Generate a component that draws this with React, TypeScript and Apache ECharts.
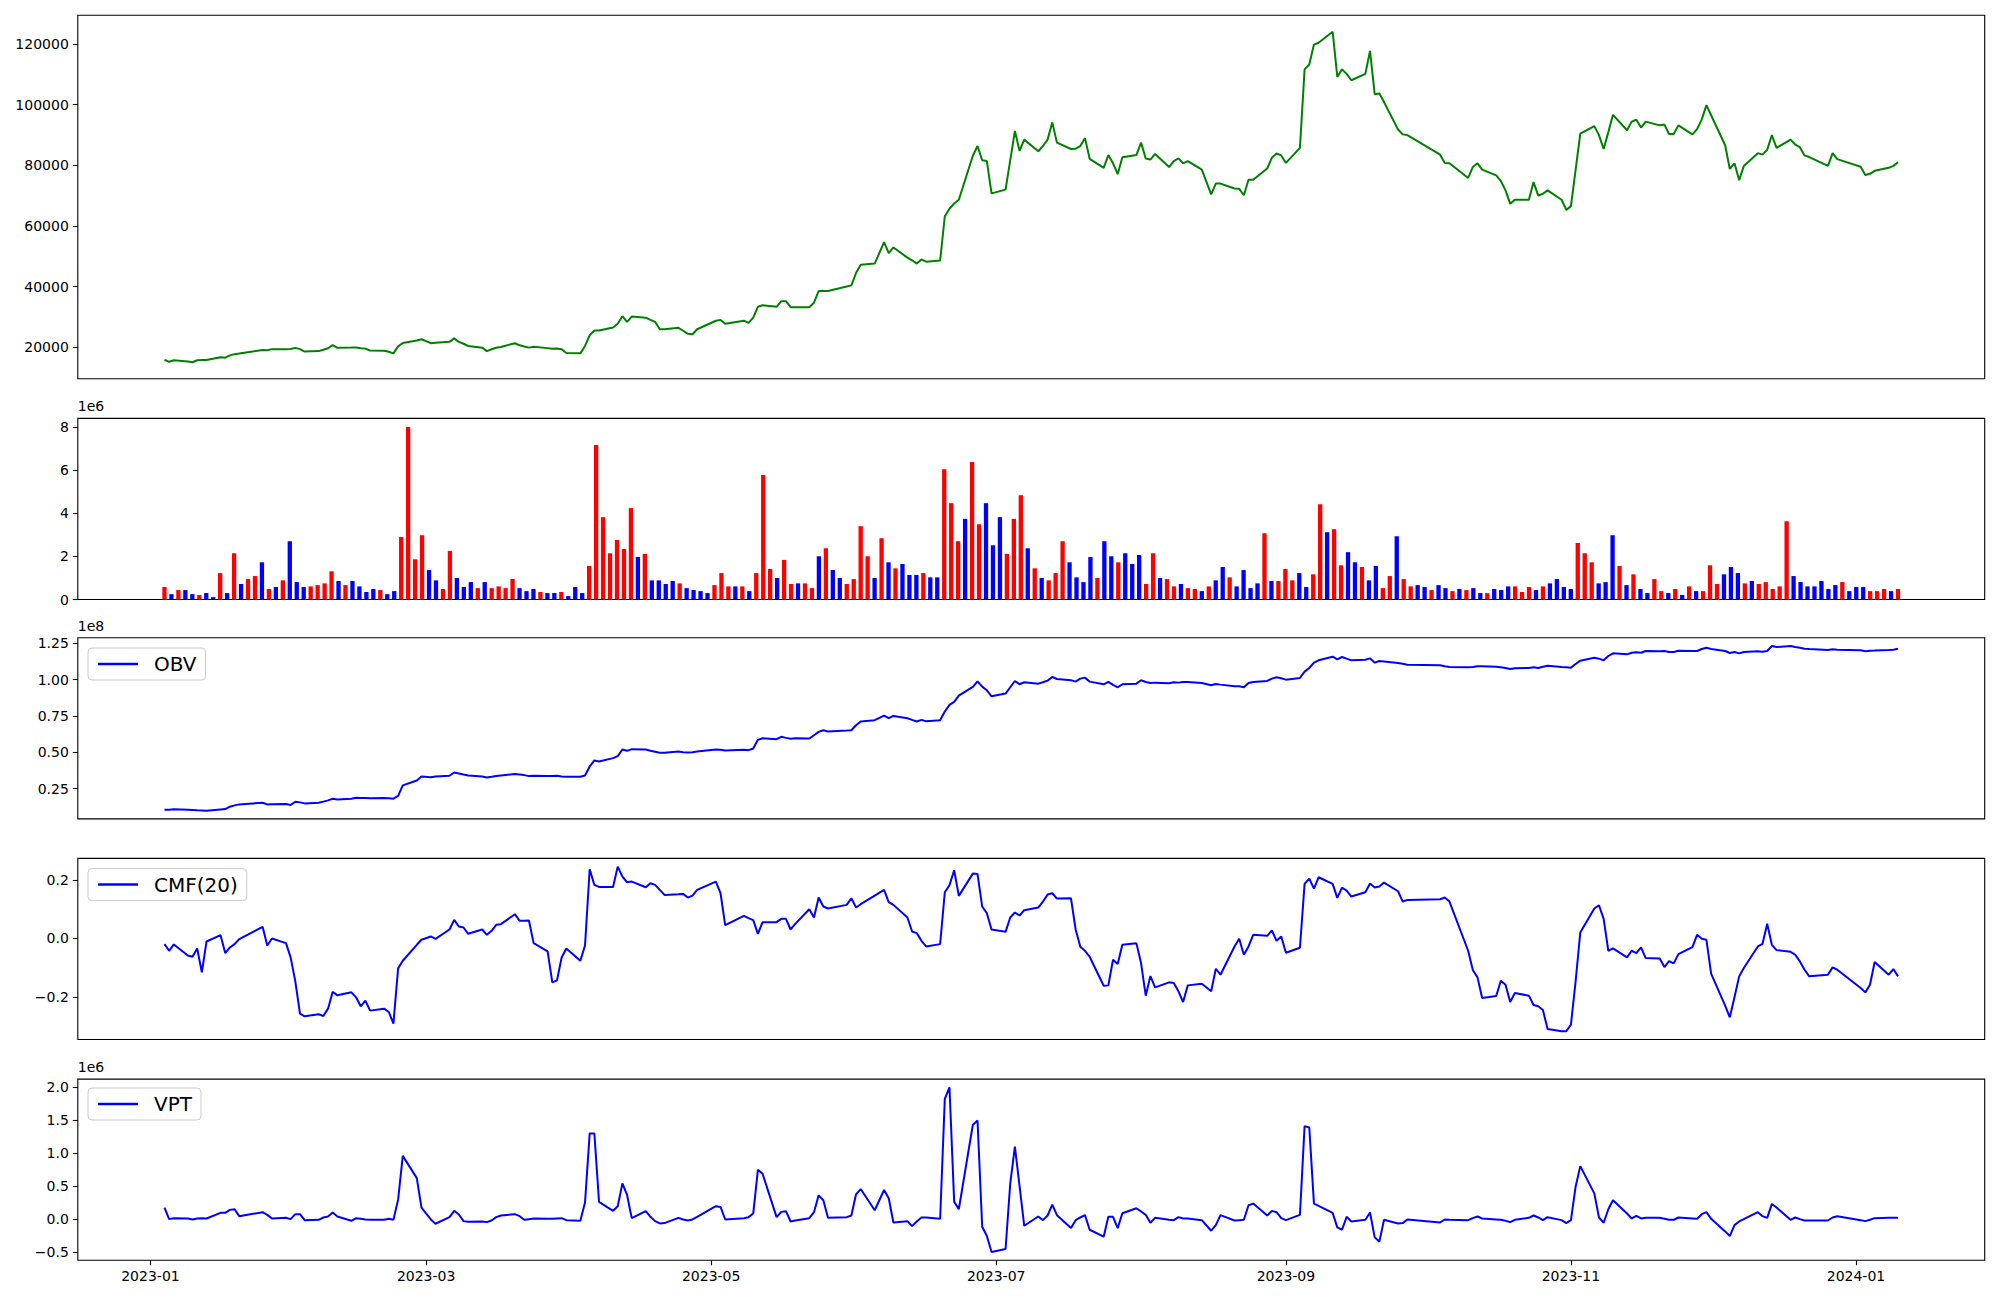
import React, { useEffect, useRef } from "react";
import * as echarts from "echarts";

// ---------- categories ----------
const FIRST_DAY = "2023-01-04";
const LAST_DAY = "2024-01-10";
const HOLIDAYS = [
  "2023-01-23", "2023-01-24", "2023-03-01", "2023-05-01", "2023-05-05", "2023-05-29",
  "2023-06-06", "2023-08-15", "2023-09-28", "2023-09-29", "2023-10-02", "2023-10-03",
  "2023-10-09", "2023-12-25", "2023-12-29", "2024-01-01",
];
const X_TICKS = ["2023-01", "2023-03", "2023-05", "2023-07", "2023-09", "2023-11", "2024-01"];

// ---------- series values ----------
const PRICE = [
  15950, 15270, 15790, 15340, 15120, 15800, 15900, 15840, 16790, 16630,
  17400, 17800, 17990, 19140, 19060, 19450, 19440, 19470, 19860, 19460,
  18660, 18795, 19270, 19750, 20770, 19900, 19960, 20020, 19710, 19620,
  18990, 18919, 18580, 18053, 20360, 21480, 22290, 22690, 21420, 21570,
  21840, 23000, 21820, 21220, 20480, 19930, 18795, 19400, 19900, 20160,
  21393, 20700, 20310, 19950, 20260, 19780, 19540, 19630, 19440, 18177,
  18053, 20500, 24000, 25600, 25600, 26588, 27825, 30299, 28444, 30175,
  29804, 29100, 28444, 25970, 26000, 26464, 25500, 24485, 24361, 26000,
  28800, 29062, 27825, 28815, 28073, 29804, 33392, 33887, 33392, 35247,
  35247, 33268, 33268, 33268, 34752, 38585, 38585, 38585, 40100, 40440,
  44524, 47245, 47616, 54667, 51080, 52935, 49600, 48700, 47616, 48977,
  48234, 48606, 63203, 65677, 67409, 68646, 83119, 86335, 81634, 81387,
  70749, 71986, 81600, 91283, 84727, 88438, 84604, 86335, 88438, 94128,
  87449, 85346, 85470, 86335, 88933, 82130, 79161, 83365, 80644, 77057,
  82624, 83365, 87449, 82254, 81883, 83738, 79408, 81387, 82254, 80644,
  81387, 78542, 70378, 73965, 73965, 72357, 72233, 70130, 75202, 75202,
  78913, 82500, 83861, 83243, 80769, 85717, 111570, 113178, 119734, 120353,
  123940, 109096, 111570, 110086, 107983, 110086, 117631, 103406, 103654, 100800,
  91778, 90170, 89922, 83489, 80768, 80644, 75820, 79408, 80644, 78542,
  76686, 74830, 71737, 67284, 68645, 68645, 74459, 70006, 70625, 71737,
  68645, 65305, 66542, 78500, 90418, 92892, 89922, 85346, 90912, 96602,
  91530, 94375, 94994, 92396, 94375, 93138, 93386, 90294, 90294, 93138,
  90170, 91902, 95117, 99818, 96478, 86582, 78789, 80644, 75078, 79779,
  83985, 83489, 85098, 89922, 85717, 88438, 86829, 85963, 83243, 82700,
  79779, 83985, 82006, 79532, 76810, 77181, 78171, 79161, 79800, 81016,
];

// volume in units of 1e6
const VOLUME_E6 = [
  0.58, 0.25, 0.44, 0.44, 0.25, 0.21, 0.30, 0.11, 1.23, 0.30,
  2.15, 0.72, 0.95, 1.09, 1.73, 0.49, 0.58, 0.89, 2.71, 0.81,
  0.58, 0.61, 0.67, 0.75, 1.31, 0.86, 0.67, 0.86, 0.61, 0.35,
  0.49, 0.44, 0.25, 0.39, 2.91, 8.02, 1.87, 2.99, 1.37, 0.89,
  0.49, 2.26, 1.00, 0.58, 0.81, 0.53, 0.81, 0.53, 0.61, 0.53,
  0.95, 0.53, 0.39, 0.49, 0.35, 0.30, 0.30, 0.35, 0.16, 0.58,
  0.30, 1.56, 7.18, 3.83, 2.15, 2.77, 2.35, 4.25, 1.98, 2.12,
  0.89, 0.89, 0.72, 0.86, 0.75, 0.53, 0.44, 0.39, 0.30, 0.67,
  1.23, 0.61, 0.61, 0.61, 0.39, 1.23, 5.79, 1.42, 1.00, 1.84,
  0.72, 0.75, 0.75, 0.53, 2.01, 2.38, 1.37, 1.00, 0.72, 0.95,
  3.41, 2.01, 1.00, 2.85, 1.73, 1.45, 1.65, 1.14, 1.14, 1.23,
  1.03, 1.03, 6.06, 4.48, 2.71, 3.75, 6.39, 3.50, 4.48, 2.52,
  3.83, 2.12, 3.75, 4.85, 2.38, 1.45, 1.00, 0.89, 1.23, 2.71,
  1.73, 1.03, 0.81, 1.98, 1.00, 2.71, 2.01, 1.73, 2.15, 1.65,
  2.07, 0.72, 2.15, 1.00, 0.95, 0.61, 0.72, 0.53, 0.49, 0.39,
  0.61, 0.89, 1.51, 1.03, 0.61, 1.37, 0.53, 0.75, 3.08, 0.86,
  0.86, 1.42, 0.89, 1.23, 0.58, 1.17, 4.43, 3.13, 3.27, 1.59,
  2.20, 1.73, 1.51, 0.89, 1.56, 0.53, 1.09, 2.94, 0.95, 0.61,
  0.67, 0.58, 0.44, 0.67, 0.53, 0.39, 0.49, 0.44, 0.53, 0.30,
  0.30, 0.49, 0.44, 0.61, 0.61, 0.35, 0.58, 0.44, 0.61, 0.75,
  0.95, 0.58, 0.49, 2.63, 2.15, 1.73, 0.75, 0.81, 2.99, 1.56,
  0.67, 1.17, 0.49, 0.30, 0.95, 0.39, 0.30, 0.49, 0.21, 0.61,
  0.39, 0.39, 1.59, 0.72, 1.17, 1.51, 1.23, 0.75, 0.86, 0.72,
  0.81, 0.49, 0.61, 3.64, 1.09, 0.81, 0.61, 0.61, 0.86, 0.49,
  0.67, 0.81, 0.39, 0.58, 0.58, 0.39, 0.39, 0.49, 0.39, 0.49,
];

// 1 = red (up) bar, 0 = blue (down) bar
const VOLUME_UP = [
  1, 0, 1, 0, 0, 1, 0, 0, 1, 0,
  1, 0, 1, 1, 0, 1, 0, 1, 0, 0,
  0, 1, 1, 1, 1, 0, 1, 0, 0, 0,
  0, 1, 0, 0, 1, 1, 1, 1, 0, 0,
  1, 1, 0, 0, 0, 1, 0, 1, 1, 1,
  1, 0, 0, 0, 1, 0, 0, 1, 0, 0,
  0, 1, 1, 1, 1, 1, 1, 1, 0, 1,
  0, 0, 0, 0, 1, 0, 0, 0, 0, 1,
  1, 1, 0, 1, 0, 1, 1, 1, 0, 1,
  1, 0, 1, 1, 0, 1, 0, 0, 1, 1,
  1, 1, 0, 1, 0, 1, 0, 0, 0, 1,
  0, 0, 1, 1, 1, 0, 1, 1, 0, 0,
  0, 1, 1, 1, 0, 1, 0, 1, 1, 1,
  0, 0, 0, 0, 1, 0, 0, 1, 0, 0,
  0, 1, 1, 0, 1, 1, 0, 1, 1, 0,
  1, 0, 0, 1, 0, 0, 0, 0, 1, 0,
  1, 1, 1, 0, 0, 1, 1, 0, 1, 1,
  0, 0, 1, 0, 0, 1, 1, 0, 1, 1,
  0, 0, 1, 0, 0, 1, 0, 1, 0, 0,
  1, 0, 0, 0, 1, 1, 1, 0, 1, 0,
  0, 0, 0, 1, 1, 1, 0, 0, 0, 1,
  0, 1, 0, 0, 1, 1, 0, 1, 0, 1,
  0, 1, 1, 1, 0, 0, 0, 1, 0, 1,
  1, 1, 1, 1, 0, 0, 0, 0, 0, 0,
  0, 1, 0, 0, 0, 1, 1, 1, 0, 1,
];

// OBV in units of 1e8
const OBV_E8 = [
  0.1054, 0.1054, 0.1091, 0.1054, 0.1038, 0.1020, 0.1006, 0.0988, 0.1072, 0.1100,
  0.1260, 0.1352, 0.1420, 0.1535, 0.1420, 0.1436, 0.1443, 0.1374, 0.1603, 0.1558,
  0.1489, 0.1535, 0.1612, 0.1695, 0.1809, 0.1763, 0.1809, 0.1878, 0.1855, 0.1855,
  0.1841, 0.1855, 0.1839, 0.1816, 0.2004, 0.2725, 0.3068, 0.3343, 0.3286, 0.3332,
  0.3389, 0.3611, 0.3549, 0.3480, 0.3412, 0.3343, 0.3274, 0.3320, 0.3377, 0.3412,
  0.3503, 0.3480, 0.3435, 0.3366, 0.3389, 0.3366, 0.3366, 0.3389, 0.3343, 0.3320,
  0.3320, 0.3412, 0.4030, 0.4442, 0.4373, 0.4602, 0.4739, 0.5197, 0.5106, 0.5220,
  0.5197, 0.5106, 0.5037, 0.4968, 0.4968, 0.5060, 0.5014, 0.4991, 0.5014, 0.5060,
  0.5197, 0.5174, 0.5128, 0.5174, 0.5151, 0.5266, 0.5861, 0.5975, 0.5907, 0.6067,
  0.5998, 0.5930, 0.5975, 0.5953, 0.6181, 0.6410, 0.6525, 0.6433, 0.6502, 0.6525,
  0.6868, 0.7120, 0.7211, 0.7532, 0.7349, 0.7509, 0.7349, 0.7234, 0.7120, 0.7234,
  0.7143, 0.7211, 0.7807, 0.8264, 0.8470, 0.8905, 0.9500, 0.9890, 0.9523, 0.9272,
  0.8859, 0.9043, 0.9478, 0.9912, 0.9684, 0.9821, 0.9729, 0.9821, 0.9935, 1.0187,
  1.0050, 0.9958, 0.9867, 1.0073, 1.0142, 0.9867, 0.9684, 0.9844, 0.9638, 0.9478,
  0.9684, 0.9729, 0.9958, 0.9844, 0.9775, 0.9798, 0.9752, 0.9821, 0.9798, 0.9844,
  0.9844, 0.9775, 0.9615, 0.9706, 0.9661, 0.9546, 0.9546, 0.9478, 0.9775, 0.9844,
  0.9912, 1.0073, 1.0164, 1.0096, 1.0004, 1.0119, 1.0553, 1.0805, 1.1171, 1.1332,
  1.1584, 1.1400, 1.1561, 1.1446, 1.1332, 1.1377, 1.1469, 1.1171, 1.1286, 1.1252,
  1.1148, 1.1103, 1.1034, 1.0988, 1.0919, 1.0873, 1.0851, 1.0873, 1.0919, 1.0919,
  1.0896, 1.0851, 1.0805, 1.0736, 1.0782, 1.0805, 1.0851, 1.0805, 1.0896, 1.0965,
  1.0873, 1.0851, 1.0828, 1.1080, 1.1309, 1.1515, 1.1446, 1.1332, 1.1630, 1.1813,
  1.1744, 1.1858, 1.1881, 1.1858, 1.1973, 1.1950, 1.1973, 1.1904, 1.1904, 1.1996,
  1.1973, 1.1973, 1.2110, 1.2202, 1.2110, 1.1973, 1.1835, 1.1904, 1.1813, 1.1904,
  1.1950, 1.1927, 1.1973, 1.2316, 1.2247, 1.2316, 1.2247, 1.2202, 1.2133, 1.2110,
  1.2041, 1.2087, 1.2064, 1.2019, 1.1950, 1.1996, 1.2007, 1.2041, 1.2064, 1.2133,
];

const CMF20 = [
  -0.0193, -0.0421, -0.0204, -0.0580, -0.0625, -0.0341, -0.1160, -0.0102, 0.0114, -0.0500,
  -0.0307, -0.0193, -0.0022, 0.0399, -0.0239, 0.0000, -0.0159, -0.0648, -0.1467, -0.2571,
  -0.2662, -0.2593, -0.2650, -0.2400, -0.1820, -0.1945, -0.1842, -0.2013, -0.2320, -0.2127,
  -0.2468, -0.2400, -0.2513, -0.2911, -0.1023, -0.0762, -0.0216, -0.0045, 0.0069, -0.0011,
  0.0308, 0.0638, 0.0410, 0.0376, 0.0160, 0.0308, 0.0126, 0.0262, 0.0467, 0.0490,
  0.0831, 0.0604, 0.0604, 0.0615, -0.0159, -0.0443, -0.1501, -0.1433, -0.0648, -0.0341,
  -0.0762, -0.0239, 0.2367, 0.1832, 0.1764, 0.1764, 0.2458, 0.2117, 0.1924, 0.1946,
  0.1753, 0.1889, 0.1832, 0.1662, 0.1491, 0.1514, 0.1525, 0.1400, 0.1468, 0.1662,
  0.1946, 0.1548, 0.0456, 0.0774, 0.0695, 0.0626, 0.0160, 0.0558, 0.0558, 0.0672,
  0.0672, 0.0308, 0.0501, 0.1002, 0.0717, 0.1400, 0.1093, 0.1025, 0.1150, 0.1377,
  0.1059, 0.1172, 0.1468, 0.1662, 0.1241, 0.1150, 0.0717, 0.0239, 0.0183, -0.0079,
  -0.0272, -0.0193, 0.1582, 0.1821, 0.2333, 0.1457, 0.2219, 0.2208, 0.1093, 0.0865,
  0.0308, 0.0228, 0.0717, 0.0888, 0.0786, 0.0968, 0.1059, 0.1263, 0.1502, 0.1548,
  0.1366, 0.1377, 0.0308, -0.0284, -0.0420, -0.0625, -0.1615, -0.1604, -0.0728, -0.0876,
  -0.0216, -0.0159, -0.0841, -0.1956, -0.1285, -0.1672, -0.1501, -0.1524, -0.1808, -0.2172,
  -0.1604, -0.1547, -0.1808, -0.1035, -0.1240, -0.0272, -0.0011, -0.0557, -0.0272, 0.0126,
  0.0092, 0.0274, -0.0079, 0.0069, -0.0489, -0.0318, 0.1866, 0.2049, 0.1707, 0.2094,
  0.1866, 0.1388, 0.1741, 0.1639, 0.1434, 0.1582, 0.1878, 0.1741, 0.1775, 0.1912,
  0.1616, 0.1263, 0.1320, 0.1343, 0.1400, 0.1263, -0.0420, -0.1080, -0.1330, -0.2036,
  -0.1968, -0.1444, -0.1581, -0.2172, -0.1865, -0.1956, -0.2275, -0.2320, -0.2446, -0.3094,
  -0.3174, -0.3174, -0.2946, -0.1467, 0.0205, 0.1024, 0.1138, 0.0672, -0.0420, -0.0341,
  -0.0648, -0.0420, -0.0500, -0.0307, -0.0671, -0.0682, -0.0978, -0.0773, -0.0853, -0.0534,
  -0.0296, 0.0126, -0.0011, -0.0045, -0.1205, -0.2297, -0.2695, -0.2013, -0.1296, -0.1012,
  -0.0272, -0.0181, 0.0501, -0.0216, -0.0398, -0.0455, -0.0557, -0.0785, -0.1069, -0.1296,
  -0.1240, -0.0989, -0.1069, -0.1695, -0.1843, -0.1581, -0.0807, -0.1240, -0.1046, -0.1296,
];

// VPT in units of 1e6
const VPT_E6 = [
  0.179, 0.004, 0.019, 0.014, -0.001, 0.014, 0.019, 0.014, 0.099, 0.099,
  0.144, 0.154, 0.049, 0.109, 0.069, 0.014, 0.024, 0.004, 0.079, 0.079,
  -0.011, -0.006, 0.029, 0.044, 0.104, 0.044, -0.021, 0.019, 0.009, -0.001,
  -0.006, -0.006, 0.009, -0.006, 0.299, 0.960, 0.624, 0.179, -0.001, -0.066,
  0.034, 0.130, 0.074, -0.026, -0.036, -0.031, -0.041, -0.016, 0.034, 0.059,
  0.079, 0.049, -0.006, 0.004, 0.014, 0.009, 0.009, 0.014, 0.019, -0.011,
  -0.021, 0.254, 1.300, 1.300, 0.264, 0.130, 0.199, 0.544, 0.369, 0.019,
  0.124, 0.039, -0.026, -0.061, -0.056, 0.024, -0.001, -0.016, -0.001, 0.039,
  0.199, 0.189, -0.001, 0.019, 0.034, 0.089, 0.750, 0.690, 0.034, 0.114,
  0.124, -0.031, -0.016, 0.019, 0.109, 0.364, 0.289, 0.024, 0.034, 0.059,
  0.379, 0.459, 0.139, 0.444, 0.319, -0.046, -0.026, -0.101, -0.031, 0.029,
  0.029, 0.009, 1.821, 1.996, 0.269, 0.154, 1.430, 1.495, -0.111, -0.251,
  -0.492, -0.447, 0.539, 1.100, 0.504, -0.096, 0.044, -0.011, 0.059, 0.224,
  0.064, -0.131, -0.011, 0.029, 0.064, -0.156, -0.261, 0.039, 0.039, -0.131,
  0.094, 0.169, 0.119, 0.069, -0.051, 0.024, -0.006, -0.011, 0.034, 0.014,
  0.014, -0.011, -0.171, -0.086, 0.064, -0.016, -0.011, -0.006, 0.214, 0.239,
  0.059, 0.129, 0.109, 0.019, -0.011, 0.069, 1.410, 1.390, 0.239, 0.204,
  0.099, -0.121, -0.156, 0.039, -0.031, -0.006, 0.104, -0.271, -0.336, -0.006,
  -0.061, -0.056, -0.001, -0.046, -0.001, -0.006, -0.011, 0.019, 0.044, 0.014,
  -0.001, -0.006, -0.021, -0.041, -0.006, 0.024, 0.059, 0.029, -0.011, 0.034,
  -0.011, -0.056, -0.011, 0.494, 0.805, 0.394, 0.029, -0.051, 0.154, 0.289,
  0.089, 0.014, 0.054, 0.014, 0.024, 0.024, 0.009, -0.006, -0.006, 0.029,
  0.014, 0.009, 0.079, 0.109, 0.009, -0.181, -0.251, -0.086, -0.031, 0.004,
  0.109, 0.049, 0.024, 0.234, 0.179, -0.006, 0.029, 0.004, -0.016, -0.016,
  -0.016, 0.029, 0.049, -0.011, -0.026, -0.006, 0.019, 0.024, 0.024, 0.024,
];

// ticks
const PRICE_TICKS = [20000, 40000, 60000, 80000, 100000, 120000];
const VOLUME_TICKS = [0, 2, 4, 6, 8];
const OBV_TICKS = [0.25, 0.5, 0.75, 1.0, 1.25];
const CMF_TICKS = [-0.2, 0.0, 0.2];
const VPT_TICKS = [-0.5, 0.0, 0.5, 1.0, 1.5, 2.0];

// ---------- helpers ----------
const DAY_MS = 86400000;
const FONT = "'DejaVu Sans', 'Liberation Sans', sans-serif";

function buildTradingDays(): string[] {
  const out: string[] = [];
  const start = Date.parse(FIRST_DAY + "T00:00:00Z");
  const end = Date.parse(LAST_DAY + "T00:00:00Z");
  for (let t = start; t <= end; t += DAY_MS) {
    const d = new Date(t);
    const wd = d.getUTCDay();
    const s = d.toISOString().slice(0, 10);
    if (wd === 0 || wd === 6 || HOLIDAYS.indexOf(s) >= 0) continue;
    out.push(s);
  }
  return out;
}

function padRange(vals: number[], floorZero = false): [number, number] {
  let lo = Math.min(...vals);
  const hi = Math.max(...vals);
  if (floorZero) lo = 0;
  const m = (hi - lo) * 0.05;
  return [floorZero ? 0 : lo - m, hi + m];
}

const minusFmt = (digits: number) => (v: number) => {
  const s = Math.abs(v).toFixed(digits);
  return v < -1e-9 ? "\u2212" + s : s;
};

export default function App() {
  const ref = useRef<HTMLDivElement>(null);

  useEffect(() => {
    if (!ref.current) return;
    const chart = echarts.init(ref.current, null, { renderer: "svg", width: 2000, height: 1300 });

    const days = buildTradingDays();
    const ts = days.map((s) => Date.parse(s + "T00:00:00Z"));
    const n = days.length;

    const t0 = ts[0];
    const t1 = ts[n - 1];
    const xm = (t1 - t0) * 0.05;
    const xMin = t0 - xm;
    const xMax = t1 + xm;
    const tickTs = X_TICKS.map((s) => Date.parse(s + "-01T00:00:00Z"));

    const priceR = padRange(PRICE);
    const volR = padRange(VOLUME_E6, true);
    const obvR = padRange(OBV_E8);
    const cmfR = padRange(CMF20);
    const vptR = padRange(VPT_E6);

    const L = 77.8;
    const W = 1906.9;
    const grids = [
      { top: 15.3, height: 363.5 },
      { top: 418.4, height: 181.1 },
      { top: 637.8, height: 181.1 },
      { top: 858.4, height: 181.1 },
      { top: 1079.1, height: 181.1 },
    ].map((g) => ({
      left: L,
      width: W,
      top: g.top,
      height: g.height,
      show: true,
      borderColor: "#000",
      borderWidth: 1.1,
      backgroundColor: "#fff",
      containLabel: false,
    }));

    const labelStyle = { fontFamily: FONT, fontSize: 14, color: "#000" };

    // date axis: a value scale over millisecond timestamps
    const dateAxis = (gridIndex: number, showLabels: boolean) => ({
      type: "value",
      gridIndex,
      position: "bottom",
      min: xMin,
      max: xMax,
      axisLine: { show: false, onZero: false },
      splitLine: { show: false },
      axisTick: showLabels
        ? { show: true, length: 5, lineStyle: { color: "#000", width: 1.1 }, customValues: tickTs }
        : { show: false },
      axisLabel: showLabels
        ? {
            show: true,
            ...labelStyle,
            margin: 9,
            customValues: tickTs,
            formatter: (v: number) => {
              const d = new Date(v);
              const mm = String(d.getUTCMonth() + 1).padStart(2, "0");
              return d.getUTCFullYear() + "-" + mm;
            },
          }
        : { show: false },
    });

    const yAxis = (
      gridIndex: number,
      range: [number, number],
      ticks: number[],
      fmt: (v: number) => string,
      name?: string
    ) => ({
      type: "value",
      gridIndex,
      position: "left",
      min: range[0],
      max: range[1],
      name: name || "",
      nameLocation: "end",
      nameGap: 5,
      nameTextStyle: { ...labelStyle, align: "left", verticalAlign: "bottom" },
      axisLine: { show: false, onZero: false },
      splitLine: { show: false },
      axisTick: { show: true, length: 5, lineStyle: { color: "#000", width: 1.1 }, customValues: ticks },
      axisLabel: { show: true, ...labelStyle, margin: 9, customValues: ticks, formatter: fmt },
    });

    const lineData = (vals: number[]) => vals.map((v, i) => [ts[i], v]);

    const legendBox = (name: string, top: number) => ({
      data: [name],
      left: 88,
      top,
      orient: "horizontal",
      icon: "rect",
      itemWidth: 40,
      itemHeight: 2.5,
      selectedMode: false,
      padding: [6, 9, 6, 10],
      backgroundColor: "rgba(255,255,255,0.8)",
      borderColor: "#cccccc",
      borderWidth: 1,
      borderRadius: 4,
      textStyle: { fontFamily: FONT, fontSize: 20, color: "#000", padding: [0, 0, 0, 11] },
    });

    const option = {
      animation: false,
      backgroundColor: "#ffffff",
      grid: grids,
      legend: [legendBox("OBV", 648), legendBox("CMF(20)", 868.6), legendBox("VPT", 1088)],
      xAxis: [
        dateAxis(0, false),
        {
          type: "value",
          gridIndex: 1,
          position: "bottom",
          min: -0.05 * (n - 1),
          max: (n - 1) * 1.05,
          axisLine: { show: false, onZero: false },
          axisTick: { show: false },
          axisLabel: { show: false },
          splitLine: { show: false },
        },
        dateAxis(2, false),
        dateAxis(3, false),
        dateAxis(4, true),
      ],
      yAxis: [
        yAxis(0, priceR, PRICE_TICKS, (v) => String(Math.round(v))),
        yAxis(1, volR, VOLUME_TICKS, (v) => String(Math.round(v)), "1e6"),
        yAxis(2, obvR, OBV_TICKS, (v) => v.toFixed(2), "1e8"),
        yAxis(3, cmfR, CMF_TICKS, minusFmt(1)),
        yAxis(4, vptR, VPT_TICKS, minusFmt(1), "1e6"),
      ],
      series: [
        {
          name: "Close",
          type: "line",
          xAxisIndex: 0,
          yAxisIndex: 0,
          data: lineData(PRICE),
          showSymbol: false,
          lineStyle: { color: "#008000", width: 2 },
          itemStyle: { color: "#008000" },
        },
        {
          name: "Volume",
          type: "bar",
          xAxisIndex: 1,
          yAxisIndex: 1,
          barWidth: 4.3,
          data: VOLUME_E6.map((v, i) => ({
            value: [i, v],
            itemStyle: { color: VOLUME_UP[i] ? "#ff0000" : "#0000ff" },
          })),
        },
        {
          name: "OBV",
          type: "line",
          xAxisIndex: 2,
          yAxisIndex: 2,
          data: lineData(OBV_E8),
          showSymbol: false,
          lineStyle: { color: "#0000ff", width: 2 },
          itemStyle: { color: "#0000ff" },
        },
        {
          name: "CMF(20)",
          type: "line",
          xAxisIndex: 3,
          yAxisIndex: 3,
          data: lineData(CMF20),
          showSymbol: false,
          lineStyle: { color: "#0000ff", width: 2 },
          itemStyle: { color: "#0000ff" },
        },
        {
          name: "VPT",
          type: "line",
          xAxisIndex: 4,
          yAxisIndex: 4,
          data: lineData(VPT_E6),
          showSymbol: false,
          lineStyle: { color: "#0000ff", width: 2 },
          itemStyle: { color: "#0000ff" },
        },
      ],
    };

    chart.setOption(option as any);
    return () => chart.dispose();
  }, []);

  return (
    <div
      ref={ref}
      style={{ position: "absolute", left: 0, top: 0, width: 2000, height: 1300, background: "#fff" }}
    />
  );
}
